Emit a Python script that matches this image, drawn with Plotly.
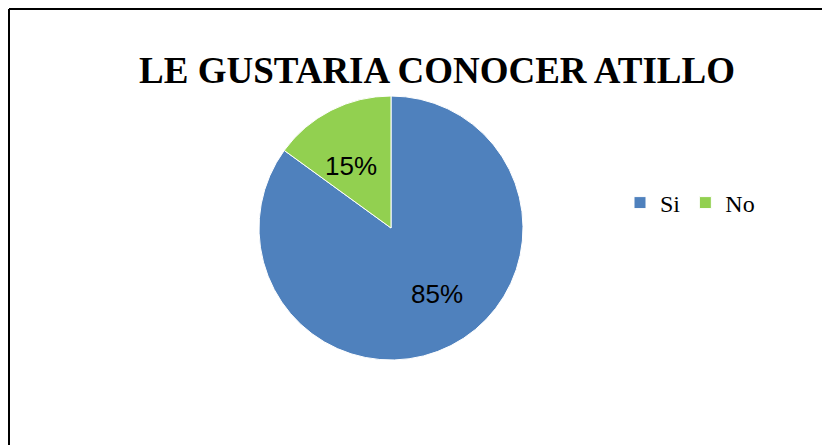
import math
import plotly.graph_objects as go

labels = ["Si", "No"]
values = [85, 15]
colors = ["#4F81BD", "#92D050"]
title = "LE GUSTARIA CONOCER ATILLO"

W, H = 830, 445
OFF = 8  # page body margin shifts the figure by this many px
cx, cy, r = 391 - OFF, 228 - OFF, 132  # pie centre / radius in px

fig = go.Figure(go.Pie(
    labels=labels, values=values,
    marker=dict(colors=colors, line=dict(color="white", width=1)),
    sort=False, direction="clockwise", rotation=0,
    textinfo="none", hoverinfo="label+percent",
    domain=dict(x=[(cx - r) / W, (cx + r) / W],
                y=[1 - (cy + r) / H, 1 - (cy - r) / H]),
))

# percentage labels placed along each slice's mid angle
total = sum(values)
start = 0.0
for v in values:
    mid = math.radians((start + v / 2) / total * 360)
    start += v
    px_ = cx + 0.67 * r * math.sin(mid) + (6 if v > total / 2 else 0)
    py_ = cy - 0.67 * r * math.cos(mid) + (4 if v > total / 2 else 0)
    fig.add_annotation(
        text=f"{round(v / total * 100)}%", x=px_ / W, y=1 - py_ / H,
        xref="paper", yref="paper", showarrow=False,
        font=dict(family="Liberation Sans, Arial, sans-serif", size=26, color="black"),
    )

# chart frame: only the top and left edges are inside the window
bx, by = (9 - OFF) / W, 1 - (9 - OFF) / H
frame = dict(type="line", xref="paper", yref="paper", line=dict(color="black", width=2))

fig.update_layout(
    width=W, height=H,
    margin=dict(l=0, r=0, t=0, b=0),
    paper_bgcolor="white", plot_bgcolor="white",
    title=dict(text=f"<b>{title}</b>", x=(437 - OFF) / W, xanchor="center",
               y=1 - (70 - OFF) / H, yanchor="middle",
               font=dict(family="Liberation Serif, Times New Roman, serif", size=37, color="black")),
    showlegend=True,
    legend=dict(orientation="h", x=(620 - OFF) / W, y=1 - (203 - OFF) / H,
                xanchor="left", yanchor="middle",
                font=dict(family="Liberation Serif, Times New Roman, serif", size=24, color="black"),
                itemwidth=30, tracegroupgap=0, itemclick=False),
    shapes=[dict(frame, x0=bx, x1=1.1, y0=by, y1=by),
            dict(frame, x0=bx, x1=bx, y0=by, y1=-0.1)],
)

fig.write_html("out.html")
